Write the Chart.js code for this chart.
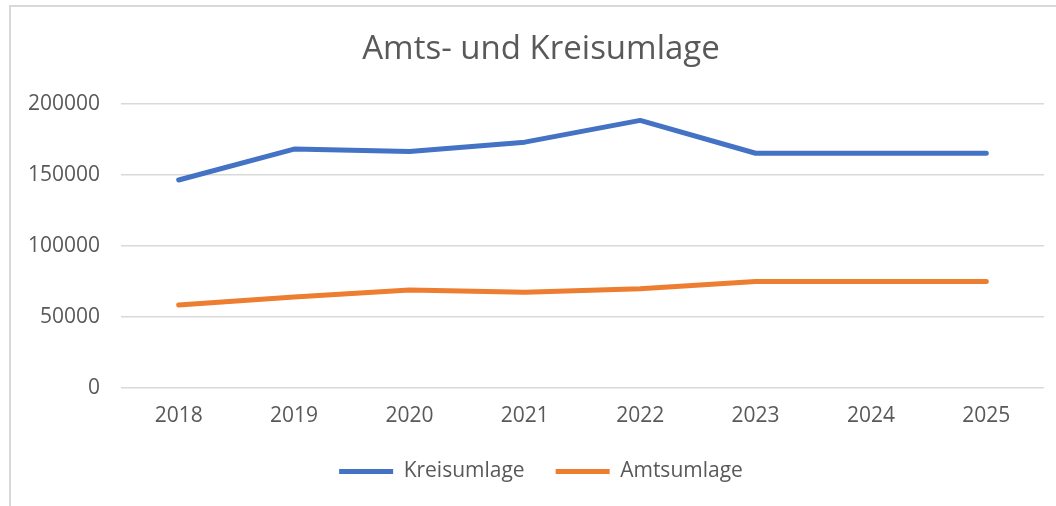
<!DOCTYPE html>
<html>
<head>
<meta charset="utf-8">
<script src="https://cdn.jsdelivr.net/npm/chart.js@4/dist/chart.umd.min.js"></script>
<style>
  html, body { margin: 0; padding: 0; background: #fff; }
  #wrap { position: relative; width: 1056px; height: 506px; overflow: hidden; }
  #frame { position: absolute; left: 9px; top: 5px; width: 1100px; height: 600px;
           border-top: 2px solid #D9D9D9; border-left: 2px solid #D9D9D9; box-sizing: border-box; }
  #c { position: absolute; left: 0; top: 0; }
</style>
</head>
<body>
<div id="wrap">
  <div id="frame"></div>
  <canvas id="c" width="1056" height="506"></canvas>
</div>
<script>
const titleText = "Amts- und Kreisumlage";
const years = ["2018", "2019", "2020", "2021", "2022", "2023", "2024", "2025"];
const kreisumlage = [146300, 168000, 166300, 172900, 188200, 165100, 165100, 165100];
const amtsumlage = [58400, 64000, 69000, 67400, 69800, 74900, 74900, 74900];
const yTickValues = [0, 50000, 100000, 150000, 200000];
const seriesNames = ["Kreisumlage", "Amtsumlage"];
const seriesColors = ["#4472C4", "#ED7D31"];

const FONT = "'Open Sans', 'Liberation Sans', sans-serif";
const TXT = "#595959";

function ds(label, data, color) {
  return {
    label, data,
    borderColor: color, backgroundColor: color,
    borderWidth: 5, tension: 0,
    borderCapStyle: "round", borderJoinStyle: "round",
    pointRadius: 0, pointHoverRadius: 0
  };
}

new Chart(document.getElementById("c"), {
  type: "line",
  data: {
    labels: years,
    datasets: [
      ds(seriesNames[0], kreisumlage, seriesColors[0]),
      ds(seriesNames[1], amtsumlage, seriesColors[1])
    ]
  },
  options: {
    responsive: false,
    animation: false,
    devicePixelRatio: 1,
    layout: { padding: { left: 38, right: 12, top: 0, bottom: 14 } },
    plugins: {
      title: {
        display: true,
        text: titleText,
        color: TXT,
        font: { family: FONT, size: 33, weight: "normal" },
        padding: { top: 30, bottom: 34 }
      },
      legend: {
        display: true,
        position: "bottom",
        labels: {
          color: TXT,
          font: { family: FONT, size: 21 },
          usePointStyle: true,
          pointStyle: "line",
          pointStyleWidth: 54,
          padding: 31
        }
      },
      tooltip: { enabled: false }
    },
    scales: {
      x: {
        offset: true,
        grid: { display: false, drawTicks: false },
        border: { display: false },
        afterFit: (scale) => { scale.height = 42; },
        ticks: { color: TXT, font: { family: FONT, size: 21 }, padding: 15, maxRotation: 0 }
      },
      y: {
        min: 0,
        max: 200000,
        grid: { color: "#D9D9D9", lineWidth: 1.5, drawTicks: false },
        border: { display: false },
        afterBuildTicks: (scale) => { scale.ticks = yTickValues.map(v => ({ value: v })); },
        afterFit: (scale) => { scale.width = 83; scale._computeLabelArea = () => undefined; },
        ticks: { color: TXT, font: { family: FONT, size: 21 }, padding: 21, callback: (v) => String(v) }
      }
    }
  }
});
</script>
</body>
</html>
